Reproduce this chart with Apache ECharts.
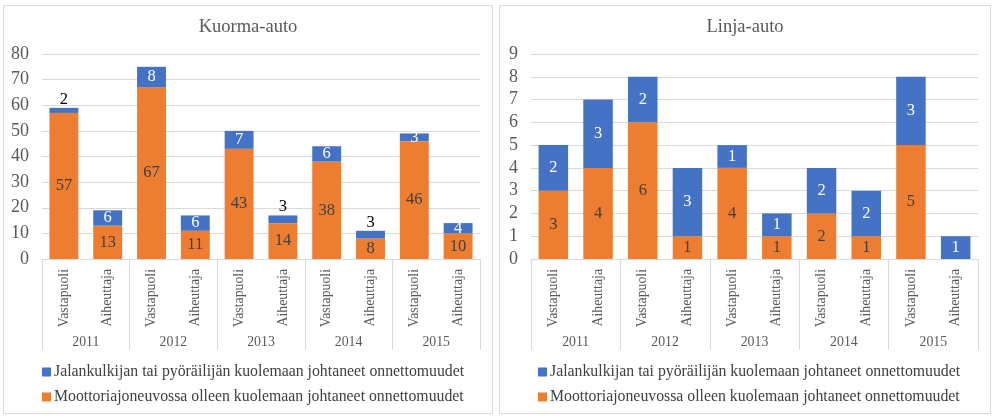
<!DOCTYPE html>
<html><head><meta charset="utf-8">
<script src="https://cdn.jsdelivr.net/npm/echarts@6/dist/echarts.min.js"></script>
<style>
html,body{margin:0;padding:0;background:#fff;width:998px;height:419px;overflow:hidden}
.panel{position:absolute;border:1px solid #d9d9d9;box-sizing:border-box;background:#fff}
#left{left:3px;top:5px;width:490px;height:409px}
#right{left:499px;top:5px;width:492px;height:409px}
</style></head>
<body>
<div id="left" class="panel"></div>
<div id="right" class="panel"></div>
<script>
const roles = ['Vastapuoli','Aiheuttaja','Vastapuoli','Aiheuttaja','Vastapuoli','Aiheuttaja','Vastapuoli','Aiheuttaja','Vastapuoli','Aiheuttaja'];
const years = ['2011','2012','2013','2014','2015'];
const seriesNames = ['Jalankulkijan tai pyöräilijän kuolemaan johtaneet onnettomuudet','Moottoriajoneuvossa olleen kuolemaan johtaneet onnettomuudet'];
const kuormaMotor = [57,13,67,11,43,14,38,8,46,10];
const kuormaPed   = [2,6,8,6,7,3,6,3,3,4];
const linjaMotor  = [3,4,6,1,4,1,2,1,5,0];
const linjaPed    = [2,3,2,3,1,1,2,2,3,1];
const kuormaPedAbove = [0,5,7];
const linjaPedAbove = [];

const FONT = '"Liberation Serif","Times New Roman",serif';
const BLUE = '#4472C4', ORANGE = '#ED7D31';

function build(title, motor, ped, above, yMax, yInt, gridLeft) {
  const pedData = ped.map((v,i)=> above.indexOf(i) >= 0
    ? {value:v, label:{position:'top', color:'#000', distance:0}}
    : v);
  return {
    animation:false,
    textStyle:{fontFamily:FONT},
    title:{text:title,left:'center',top:7,textStyle:{fontFamily:FONT,fontWeight:'normal',fontSize:18.5,color:'#595959'}},
    legend:{orient:'vertical',left:33,top:353,itemGap:9,itemWidth:9,itemHeight:9,icon:'rect',
      data:[seriesNames[0],seriesNames[1]],
      textStyle:{fontFamily:FONT,fontSize:15.8,color:'#404040',padding:[0,0,0,-2]}},
    grid:{left:gridLeft,right:12,top:48,bottom:154,containLabel:false},
    xAxis:[
      {type:'category',data:roles,axisTick:{show:false},
       axisLine:{lineStyle:{color:'#d9d9d9'}},
       axisLabel:{rotate:90,interval:0,fontFamily:FONT,fontSize:13.8,color:'#595959',margin:10}},
      {type:'category',data:years,position:'bottom',
       axisLine:{show:false},
       axisTick:{show:true,length:91,alignWithLabel:false,lineStyle:{color:'#d9d9d9'}},
       axisLabel:{interval:0,fontFamily:FONT,fontSize:13.8,color:'#595959',margin:76}}
    ],
    yAxis:{type:'value',min:0,max:yMax,interval:yInt,
      axisLine:{show:false},axisTick:{show:false},
      splitLine:{lineStyle:{color:'#d9d9d9'}},
      axisLabel:{fontFamily:FONT,fontSize:18,color:'#595959',margin:13}},
    series:[
      {name:seriesNames[1],type:'bar',stack:'s',xAxisIndex:0,data:motor,barCategoryGap:'34%',
       itemStyle:{color:ORANGE},
       label:{show:true,position:'inside',fontFamily:FONT,fontSize:16.5,color:'#404040',
         formatter:p=>p.value===0?'':p.value}},
      {name:seriesNames[0],type:'bar',stack:'s',xAxisIndex:0,data:pedData,barCategoryGap:'34%',
       itemStyle:{color:BLUE},
       label:{show:true,position:'inside',fontFamily:FONT,fontSize:16.5,color:'#fff'}}
    ]
  };
}
echarts.init(document.getElementById('left')).setOption(build('Kuorma-auto',kuormaMotor,kuormaPed,kuormaPedAbove,80,10,38));
echarts.init(document.getElementById('right')).setOption(build('Linja-auto',linjaMotor,linjaPed,linjaPedAbove,9,1,31));
</script>
</body></html>
